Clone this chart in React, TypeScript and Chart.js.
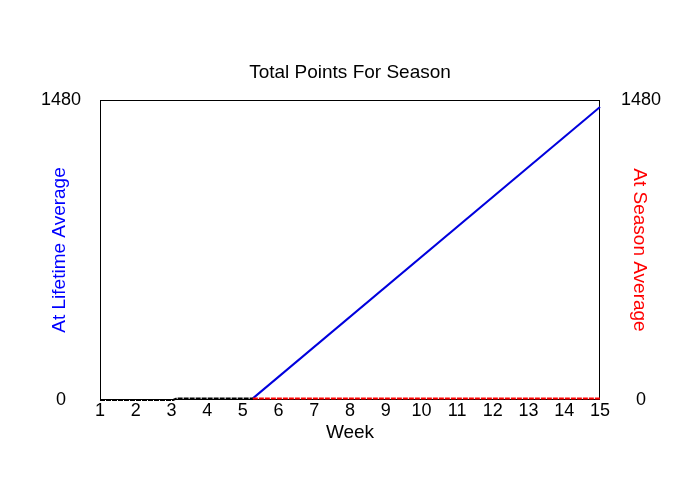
import React, { useEffect, useRef } from "react";
import { Chart, registerables } from "chart.js";

Chart.register(...registerables);

const titleText = "Total Points For Season";
const xTitle = "Week";
const leftTitle = "At Lifetime Average";
const rightTitle = "At Season Average";

const weekMin = 1;
const weekMax = 15;
const yTicks = [0, 1480];

const lifetimeWeeks = [5.28, 15];
const lifetimeValues = [8, 1445];

const seasonWeeks = [5.28, 15];
const seasonValues = [8, 8];

const actualWeeks = [1, 3.05, 3.15, 5.28];
const actualValues = [0, 0, 8, 8];

const FONT = "'Liberation Sans', Arial, Helvetica, sans-serif";

const toPoints = (xs: number[], ys: number[]) => xs.map((x, i) => ({ x, y: ys[i] }));

const frame = {
  id: "frame",
  beforeDatasetsDraw(chart: any) {
    const { ctx, chartArea } = chart;
    ctx.save();
    ctx.strokeStyle = "#000";
    ctx.lineWidth = 1;
    ctx.strokeRect(
      Math.round(chartArea.left) + 0.5,
      Math.round(chartArea.top) + 0.5,
      Math.round(chartArea.right - chartArea.left) - 1,
      Math.round(chartArea.bottom - chartArea.top) - 1
    );
    ctx.restore();
  },
};

export default function App() {
  const ref = useRef<HTMLCanvasElement | null>(null);
  useEffect(() => {
    if (!ref.current) return;
    const chart = new Chart(ref.current, {
      type: "line",
      data: {
        datasets: [
          {
            label: "Actual",
            data: toPoints(actualWeeks, actualValues),
            borderColor: "#000000",
            borderWidth: 2,
            borderDash: [5, 1],
            pointRadius: 0,
            yAxisID: "y",
            order: 0,
            clip: false,
          },
          {
            label: rightTitle,
            data: toPoints(seasonWeeks, seasonValues),
            borderColor: "#ff0000",
            borderWidth: 2,
            borderDash: [5, 1],
            pointRadius: 0,
            yAxisID: "y2",
            order: 1,
            clip: false,
          },
          {
            label: leftTitle,
            data: toPoints(lifetimeWeeks, lifetimeValues),
            borderColor: "#0000dd",
            borderWidth: 2,
            pointRadius: 0,
            yAxisID: "y",
            order: 2,
            clip: false,
          },
        ],
      },
      options: {
        animation: false,
        responsive: false,
        devicePixelRatio: 1,
        layout: { padding: 0 },
        plugins: {
          legend: { display: false },
          tooltip: { enabled: false },
          title: {
            display: true,
            text: titleText,
            color: "#000",
            font: { family: FONT, size: 19, weight: "normal" },
            padding: { top: 61, bottom: 16.2 },
          },
        },
        scales: {
          x: {
            type: "linear",
            position: "bottom",
            min: weekMin,
            max: weekMax,
            grid: { display: false, drawTicks: false },
            border: { display: false },
            ticks: {
              stepSize: 1,
              padding: 0,
              color: "#000",
              font: { family: FONT, size: 18 },
              maxRotation: 0,
              autoSkip: false,
              callback: (v: any) => String(v),
            },
            title: {
              display: true,
              text: xTitle,
              color: "#000",
              font: { family: FONT, size: 19 },
              padding: { top: 0, bottom: 56 },
            },
            afterFit: (s: any) => {
              s.height = 100;
            },
          },
          y: {
            type: "linear",
            position: "left",
            min: yTicks[0],
            max: yTicks[yTicks.length - 1],
            grid: { display: false, drawTicks: false },
            border: { display: false },
            afterBuildTicks: (s: any) => {
              s.ticks = yTicks.map((v) => ({ value: v }));
            },
            ticks: {
              padding: 19,
              crossAlign: "center",
              color: "#000",
              font: { family: FONT, size: 18 },
              callback: (v: any) => String(v),
            },
            title: {
              display: true,
              text: leftTitle,
              color: "#0000ff",
              font: { family: FONT, size: 19 },
              padding: { top: 48, bottom: 0 },
            },
            afterFit: (s: any) => {
              s.width = 100;
            },
          },
          y2: {
            type: "linear",
            position: "right",
            min: yTicks[0],
            max: yTicks[yTicks.length - 1],
            grid: { display: false, drawTicks: false },
            border: { display: false },
            afterBuildTicks: (s: any) => {
              s.ticks = yTicks.map((v) => ({ value: v }));
            },
            ticks: {
              padding: 21,
              crossAlign: "center",
              color: "#000",
              font: { family: FONT, size: 18 },
              callback: (v: any) => String(v),
            },
            title: {
              display: true,
              text: rightTitle,
              color: "#ff0000",
              font: { family: FONT, size: 19 },
              padding: { top: 49, bottom: 0 },
            },
            afterFit: (s: any) => {
              s.width = 100;
            },
          },
        },
      },
      plugins: [frame],
    } as any);
    return () => chart.destroy();
  }, []);
  return (
    <div style={{ position: "fixed", left: 0, top: 0, width: 700, height: 500, background: "#fff" }}>
      <canvas ref={ref} width={700} height={500} style={{ width: 700, height: 500, display: "block" }} />
    </div>
  );
}
